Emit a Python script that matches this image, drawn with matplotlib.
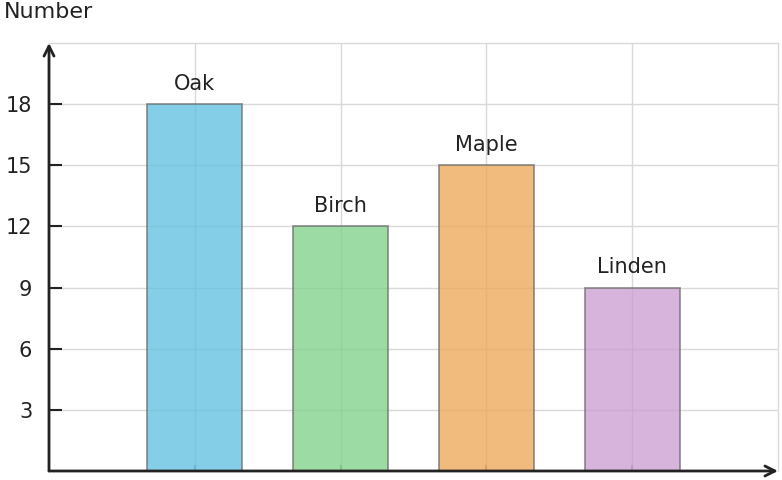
import numpy as np
import matplotlib
matplotlib.use('Agg')
import matplotlib.pyplot as plt

#####################################
# data
#####################################
trees = ['Oak', 'Birch', 'Maple', 'Linden']
counts = [18, 12, 15, 9]
colors = ['#5bc0e0', '#7dcf86', '#eea553', '#c99bd0']
yticks = [3, 6, 9, 12, 15, 18]

#####################################
# figure
#####################################
fig = plt.figure(figsize=(7.82, 4.8), dpi=100)
ax = fig.add_axes([49/782, 1 - 471/480, (778-49)/782, (471-43)/480])

xpos = np.arange(1, len(trees) + 1)
ax.bar(xpos, counts, width=0.65, color=colors, alpha=0.75,
       edgecolor='#707070', linewidth=1.3, zorder=2)
for x, c, name in zip(xpos, counts, trees):
    ax.text(x, c + 0.5, name, ha='center', va='bottom', fontsize=15, color='#222222')

ax.set_xlim(0, 5)
ax.set_ylim(0, 21)
ax.set_xticks(xpos)
ax.set_xticklabels([])
ax.set_yticks(yticks)
ax.set_yticklabels([str(t) for t in yticks], fontsize=15, color='#222222')
ax.tick_params(axis='y', direction='in', length=9, width=1.5, color='#222222', pad=12)
ax.tick_params(axis='x', direction='in', length=4, width=1.5, color='#999999')
ax.grid(True, color='#d9d9d9', linewidth=1, zorder=1)
ax.set_axisbelow(True)

for s in ['top', 'right']:
    ax.spines[s].set_color('#d9d9d9')
    ax.spines[s].set_linewidth(1)
for s in ['left', 'bottom']:
    ax.spines[s].set_visible(False)

# axis arrows
ax.annotate('', xy=(0, 1.0), xytext=(0, 0), xycoords='axes fraction',
            arrowprops=dict(arrowstyle='->', color='#222222', lw=2, mutation_scale=18,
                            shrinkA=0, shrinkB=0), annotation_clip=False, zorder=5)
ax.annotate('', xy=(1.0, 0), xytext=(0, 0), xycoords='axes fraction',
            arrowprops=dict(arrowstyle='->', color='#222222', lw=2, mutation_scale=18,
                            shrinkA=0, shrinkB=0), annotation_clip=False, zorder=5)

fig.text(4/782, 1 - 12/480, 'Number', fontsize=16, color='#222222', va='center', ha='left')

fig.savefig('out.png', dpi=100)
